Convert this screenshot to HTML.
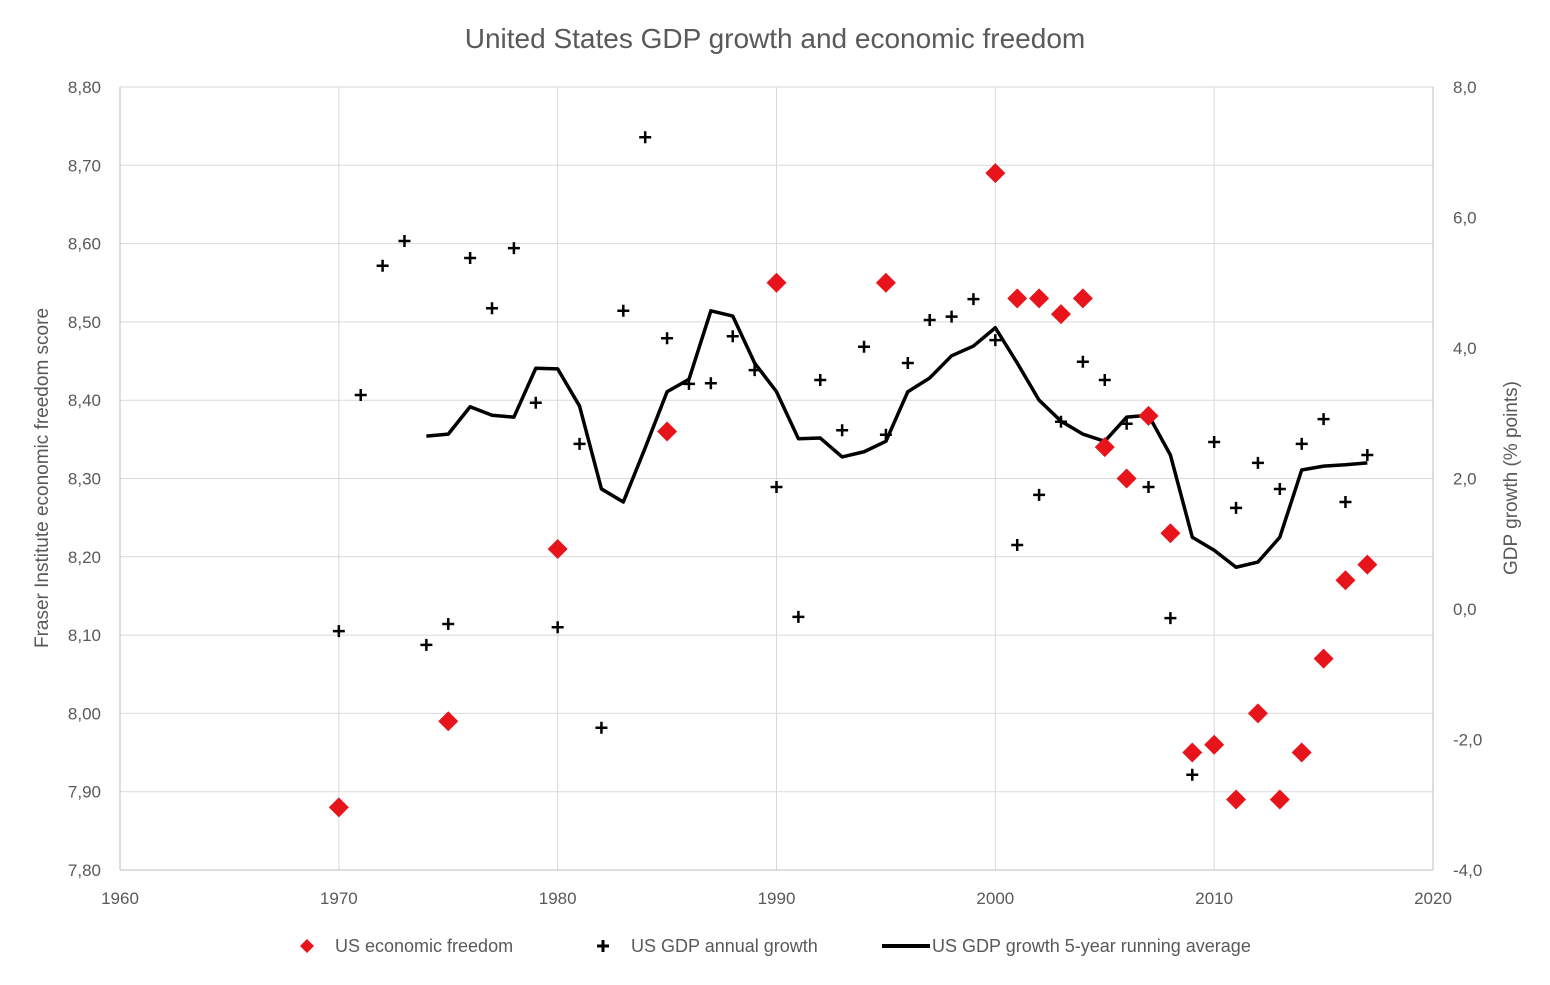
<!DOCTYPE html>
<html><head><meta charset="utf-8"><style>
body{margin:0;background:#fff;}
svg text{font-family:"Liberation Sans",sans-serif;fill:#595959;}
</style></head><body>
<svg id="chart" width="1550" height="980">
<text x="775" y="48" text-anchor="middle" font-size="28">United States GDP growth and economic freedom</text>
<g id="grid"></g><g id="axes"></g><g id="marks"></g>
<text transform="translate(48,478) rotate(-90)" text-anchor="middle" font-size="19">Fraser Institute economic freedom score</text>
<text transform="translate(1517,478) rotate(-90)" text-anchor="middle" font-size="19">GDP growth (% points)</text>
<g>
<path d="M300,946 l7,-7 l7,7 l-7,7z" fill="#e8141c"/>
<text x="335" y="952" font-size="18">US economic freedom</text>
<path d="M597,946 h12 M603,940 v12" stroke="#000" stroke-width="3"/>
<text x="631" y="952" font-size="18">US GDP annual growth</text>
<path d="M882,946 h48" stroke="#000" stroke-width="4"/>
<text x="932" y="952" font-size="18">US GDP growth 5-year running average</text>
</g>
</svg>
<script>
const freedomYears=[1970,1975,1980,1985,1990,1995,2000,2001,2002,2003,2004,2005,2006,2007,2008,2009,2010,2011,2012,2013,2014,2015,2016,2017];
const freedomValues=[7.88,7.99,8.21,8.36,8.55,8.55,8.69,8.53,8.53,8.51,8.53,8.34,8.30,8.38,8.23,7.95,7.96,7.89,8.00,7.89,7.95,8.07,8.17,8.19];
const growthStartYear=1970;
const growthValues=[-0.34,3.28,5.26,5.64,-0.55,-0.23,5.38,4.61,5.53,3.16,-0.28,2.53,-1.82,4.57,7.23,4.15,3.45,3.46,4.18,3.66,1.87,-0.12,3.51,2.74,4.02,2.67,3.77,4.43,4.48,4.75,4.12,0.98,1.75,2.87,3.79,3.51,2.84,1.87,-0.14,-2.54,2.56,1.55,2.24,1.84,2.53,2.91,1.64,2.36];
const avgStartYear=1974;
const avgValues=[2.65,2.68,3.10,2.97,2.94,3.69,3.68,3.11,1.84,1.64,2.47,3.33,3.52,4.57,4.49,3.77,3.33,2.61,2.62,2.33,2.41,2.57,3.33,3.54,3.88,4.03,4.31,3.77,3.20,2.88,2.68,2.57,2.94,2.97,2.36,1.10,0.90,0.64,0.72,1.10,2.13,2.19,2.21,2.24];
const xTicks=[1960,1970,1980,1990,2000,2010,2020];
const leftTicks=[7.8,7.9,8.0,8.1,8.2,8.3,8.4,8.5,8.6,8.7,8.8];
const rightTicks=[-4,-2,0,2,4,6,8];

const L=120,R=1433,T=87,B=870;
const X=y=>L+(y-1960)*(R-L)/60;
const YL=v=>B-(v-7.8)*(B-T)/1.0;
const YR=v=>B-(v+4)*(B-T)/12;
const NS="http://www.w3.org/2000/svg";
function mk(parent,tag,attrs){const e=document.createElementNS(NS,tag);for(const k in attrs)e.setAttribute(k,attrs[k]);document.getElementById(parent).appendChild(e);return e;}
const fmt=v=>v.toFixed(v>=7?2:1).replace('.',',');
leftTicks.forEach(v=>{
  const l=mk('grid','line',{x1:L,x2:R,y1:YL(v),y2:YL(v),stroke:'#d9d9d9','stroke-width':1});
  
  
  const t=mk('axes','text',{x:L-19,y:YL(v)+6,'text-anchor':'end','font-size':17});
  t.textContent=v.toFixed(2).replace('.',',');
  
  
});
xTicks.forEach(v=>{
  const l=mk('grid','line',{x1:X(v),x2:X(v),y1:T,y2:B,stroke:'#d9d9d9','stroke-width':1});
  
  
  const t=mk('axes','text',{x:X(v),y:B+34,'text-anchor':'middle','font-size':17});
  t.textContent=v;
  
  
});
rightTicks.forEach(v=>{
  const t=mk('axes','text',{x:R+20,y:YR(v)+6,'font-size':17});
  t.textContent=v.toFixed(1).replace('.',',');
  
  
});
[[L,T,L,B],[R,T,R,B],[L,B,R,B]].forEach(a=>{
  const l=mk('axes','line',{x1:a[0],y1:a[1],x2:a[2],y2:a[3],stroke:'#bfbfbf','stroke-width':1});
  
  
});
const pts=avgValues.map((v,i)=>X(avgStartYear+i)+','+YR(v)).join(' ');
const pl=mk('marks','polyline',{points:pts,fill:'none',stroke:'#000','stroke-width':3.5,'stroke-linejoin':'round'});


growthValues.forEach((v,i)=>{
  const x=X(growthStartYear+i),y=YR(v);
  const p=mk('marks','path',{d:`M${x-6},${y}h12M${x},${y-6}v12`,stroke:'#000','stroke-width':2.5});
  
  
});
freedomValues.forEach((v,i)=>{
  const x=X(freedomYears[i]),y=YL(v);
  const p=mk('marks','path',{d:`M${x-10},${y}L${x},${y-10}L${x+10},${y}L${x},${y+10}Z`,fill:'#e8141c'});
  
  
});
</script>
</body></html>
